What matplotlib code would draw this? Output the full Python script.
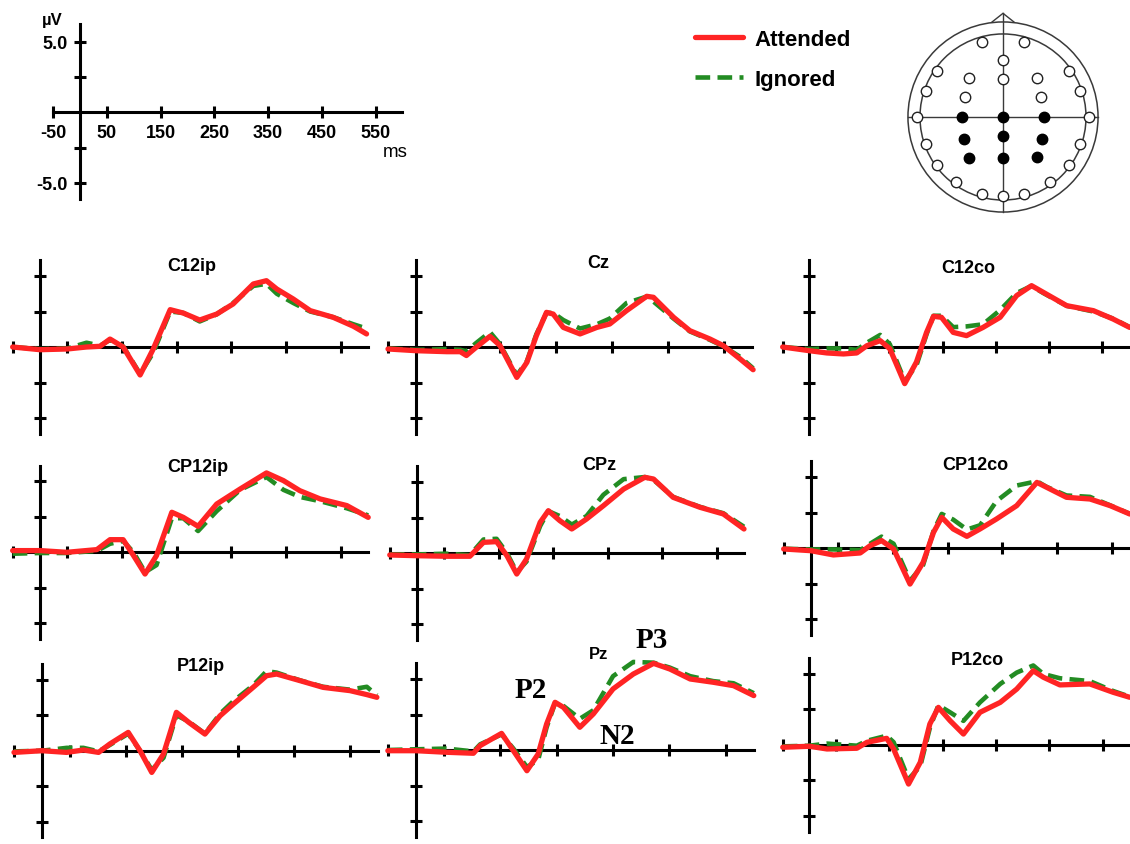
import matplotlib
matplotlib.use('Agg')
import matplotlib.pyplot as plt
from matplotlib.patches import Circle, Polygon

# ---- ERP data (ms, µV) ----
t_c12ip = [-50, 0, 50, 85, 110, 128, 152, 183, 207, 238, 262, 292, 323, 353, 390, 414, 433, 463, 494, 536, 573, 597]
att_c12ip = [0, -0.19, -0.14, 0, 0.05, 0.56, 0, -1.97, -0.14, 2.63, 2.39, 1.9, 2.32, 3.03, 4.44, 4.67, 4.08, 3.38, 2.56, 2.09, 1.46, 0.92]
ign_c12ip = [0, -0.15, -0.1, 0.3, 0.1, 0.5, 0.05, -1.9, -0.4, 2.5, 2.4, 1.8, 2.3, 3.1, 4.3, 4.45, 3.75, 3.1, 2.5, 2.1, 1.6, 1.3]

t_cz = [-50, 0, 55, 79, 90, 108, 132, 150, 180, 198, 215, 233, 245, 263, 293, 323, 346, 376, 412, 424, 460, 489, 525, 549, 579, 602]
att_cz = [-0.14, -0.26, -0.33, -0.33, -0.6, 0, 0.75, 0.1, -2.14, -1.08, 0.8, 2.44, 2.32, 1.38, 0.92, 1.38, 1.62, 2.56, 3.57, 3.5, 2.09, 1.15, 0.56, 0.09, -0.85, -1.6]
ign_cz = [-0.1, -0.2, -0.15, -0.2, -0.3, 0.3, 1.05, 0.2, -2.0, -1.0, 0.9, 2.4, 2.4, 1.9, 1.3, 1.6, 2.0, 3.1, 3.55, 3.2, 2.0, 1.1, 0.5, 0.05, -0.7, -1.5]

t_c12co = [-50, 0, 33, 64, 89, 108, 133, 151, 179, 201, 220, 233, 248, 270, 295, 326, 358, 389, 417, 439, 483, 533, 570, 601]
att_c12co = [0, -0.26, -0.42, -0.49, -0.42, 0.09, 0.45, -0.12, -2.58, -1.06, 1.03, 2.16, 2.09, 1.03, 0.8, 1.38, 2.09, 3.62, 4.32, 3.85, 2.91, 2.56, 1.97, 1.38]
ign_c12co = [0, -0.15, -0.1, -0.1, -0.2, 0.3, 0.85, 0.2, -2.4, -1.3, 0.9, 2.2, 2.2, 1.4, 1.45, 1.6, 2.6, 3.8, 4.3, 3.8, 2.9, 2.5, 2.0, 1.4]

t_cp12ip = [-50, 0, 49, 104, 128, 152, 171, 192, 213, 241, 262, 289, 323, 366, 414, 445, 475, 512, 561, 600]
att_cp12ip = [0.12, 0.12, 0, 0.19, 0.89, 0.89, -0.23, -1.53, -0.23, 2.82, 2.46, 1.83, 3.4, 4.46, 5.59, 5.05, 4.34, 3.76, 3.29, 2.46]
ign_cp12ip = [-0.1, -0.05, -0.05, 0.1, 0.6, 0.8, 0.0, -1.4, -0.9, 2.4, 2.4, 1.5, 2.9, 4.4, 5.3, 4.4, 3.9, 3.6, 3.1, 2.6]

t_cpz = [-50, 0, 54, 97, 122, 146, 165, 183, 201, 226, 241, 262, 284, 311, 342, 379, 418, 434, 470, 519, 562, 600]
att_cpz = [-0.14, -0.19, -0.23, -0.23, 0.75, 0.8, -0.19, -1.48, -0.42, 2.16, 2.98, 2.28, 1.69, 2.39, 3.33, 4.5, 5.33, 5.21, 3.92, 3.22, 2.75, 1.69]
ign_cpz = [-0.1, -0.1, -0.05, -0.15, 0.95, 1.0, 0.0, -1.35, -0.6, 1.9, 2.95, 2.6, 2.0, 2.6, 4.1, 5.2, 5.35, 5.15, 3.95, 3.25, 2.8, 1.85]

t_cp12co = [-50, 0, 41, 90, 108, 129, 151, 181, 205, 224, 239, 260, 285, 309, 339, 376, 413, 431, 467, 510, 547, 583]
att_cp12co = [-0.07, -0.19, -0.49, -0.35, 0.16, 0.52, -0.07, -2.54, -1.01, 1.1, 2.16, 1.34, 0.82, 1.34, 2.04, 2.98, 4.62, 4.27, 3.57, 3.45, 2.98, 2.39]
ign_cp12co = [-0.05, -0.1, -0.1, -0.15, 0.3, 0.8, 0.3, -2.3, -1.2, 1.2, 2.4, 2.0, 1.3, 1.6, 3.3, 4.4, 4.7, 4.3, 3.7, 3.6, 3.0, 2.4]

t_p12ip = [-50, 0, 44, 74, 101, 121, 154, 175, 196, 217, 240, 262, 291, 318, 342, 377, 401, 419, 461, 502, 550, 580, 598]
att_p12ip = [-0.12, 0, -0.12, 0.05, -0.12, 0.47, 1.29, 0, -1.53, -0.23, 2.7, 2.0, 1.17, 2.46, 3.29, 4.46, 5.28, 5.4, 4.93, 4.46, 4.23, 3.95, 3.76]
ign_p12ip = [-0.05, 0, 0.2, 0.2, -0.05, 0.4, 1.2, 0.0, -1.35, -0.5, 2.5, 2.05, 1.2, 2.6, 3.5, 4.6, 5.6, 5.5, 4.95, 4.5, 4.3, 4.5, 3.9]

t_pz = [-50, 0, 54, 102, 114, 152, 173, 197, 217, 232, 247, 262, 291, 315, 350, 386, 422, 451, 487, 528, 564, 600]
att_pz = [-0.05, -0.05, -0.16, -0.23, 0.31, 1.17, -0.05, -1.46, -0.28, 1.83, 3.36, 3.0, 1.6, 2.54, 4.3, 5.35, 6.1, 5.7, 5.0, 4.77, 4.53, 3.83]
ign_pz = [0, 0.05, 0.1, -0.1, 0.4, 1.1, 0.1, -1.2, -0.7, 1.6, 3.3, 3.1, 2.2, 2.8, 5.2, 6.2, 6.15, 5.8, 5.2, 4.85, 4.7, 4.0]

t_p12co = [-50, 0, 33, 89, 108, 145, 158, 186, 208, 226, 242, 264, 289, 320, 358, 389, 420, 439, 470, 526, 570, 601]
att_p12co = [-0.16, -0.09, -0.28, -0.23, 0.19, 0.47, -0.28, -2.75, -1.22, 1.48, 2.65, 1.71, 0.77, 2.3, 3.0, 3.94, 5.23, 4.77, 4.23, 4.3, 3.71, 3.36]
ign_p12co = [-0.1, -0.05, 0.1, -0.05, 0.3, 0.65, 0.2, -2.4, -1.5, 1.2, 2.8, 2.3, 1.7, 3.0, 4.3, 5.1, 5.6, 5.0, 4.7, 4.5, 3.8, 3.4]

titles = ['C12ip', 'Cz', 'C12co', 'CP12ip', 'CPz', 'CP12co', 'P12ip', 'Pz', 'P12co']
times = [t_c12ip, t_cz, t_c12co, t_cp12ip, t_cpz, t_cp12co, t_p12ip, t_pz, t_p12co]
attended = [att_c12ip, att_cz, att_c12co, att_cp12ip, att_cpz, att_cp12co, att_p12ip, att_pz, att_p12co]
ignored = [ign_c12ip, ign_cz, ign_c12co, ign_cp12ip, ign_cpz, ign_cp12co, ign_p12ip, ign_pz, ign_p12co]

x_ticks = [-50, 50, 150, 250, 350, 450, 550]
y_ticks = [-5, -2.5, 2.5, 5]

# electrode montage (head radius = 1)
open_x = [-0.22, 0.22, -0.69, 0.69, -0.8, 0.8, -0.9, 0.9, -0.8, 0.8, -0.69, 0.69, -0.49, 0.49, -0.22, 0.22, 0,
          0, 0, -0.35, 0.35, -0.4, 0.4]
open_y = [0.78, 0.78, 0.48, 0.48, 0.27, 0.27, 0, 0, -0.28, -0.28, -0.5, -0.5, -0.68, -0.68, -0.8, -0.8, -0.82,
          0.59, 0.4, 0.41, 0.41, 0.21, 0.21]
filled_x = [-0.43, 0, 0.43, -0.41, 0, 0.41, -0.35, 0, 0.35]
filled_y = [0, 0, 0, -0.23, -0.2, -0.23, -0.43, -0.43, -0.42]

RED = '#FF2424'
GREEN = '#238C23'
W, H = 1130, 845
SY = 14.2  # pixels per µV

fig = plt.figure(figsize=(W / 100, H / 100), dpi=100)
FONT = 'Liberation Sans'


def px_axes(left, top, width, height):
    return fig.add_axes([left / W, 1 - (top + height) / H, width / W, height / H])


def ptext(x, y, s, **kw):
    fig.text(x / W, 1 - y / H, s, **kw)


def erp_axes(x0, y0, sx, xend=600, sy=SY, ybounds=(-6.1, 6.1)):
    xlim = (-60, 640)
    ylim = (-6.6, 6.6)
    ax = px_axes(x0 + xlim[0] * sx, y0 - ylim[1] * sy,
                 (xlim[1] - xlim[0]) * sx, (ylim[1] - ylim[0]) * sy)
    ax.set_xlim(xlim)
    ax.set_ylim(ylim)
    ax.patch.set_visible(False)
    for s in ['top', 'right']:
        ax.spines[s].set_visible(False)
    for s in ['left', 'bottom']:
        ax.spines[s].set_position(('data', 0))
        ax.spines[s].set_linewidth(2.2)
        ax.spines[s].set_zorder(1)
    ax.spines['bottom'].set_bounds(-50, xend)
    ax.spines['left'].set_bounds(*ybounds)
    ax.set_xticks(x_ticks)
    ax.set_yticks(y_ticks)
    ax.tick_params(direction='inout', length=9, width=2.2, labelbottom=False, labelleft=False)
    return ax


# panel geometry: pixel of t=0, pixel of 0 µV, pixels per ms
geom = [(40, 348, 0.547), (416, 348, 0.56), (809.3, 348, 0.533),
        (40, 553.3, 0.547), (417, 554, 0.545), (811, 549, 0.547),
        (42, 751.7, 0.56), (416, 751, 0.563), (809.4, 746, 0.533)]
title_pos = [(192, 271), (598, 268.5), (968, 273), (198, 472), (599, 470.5),
             (975, 470), (201, 671), (599, 659), (977, 665)]

handles = None
for i in range(9):
    x0, y0, sx = geom[i]
    ax = erp_axes(x0, y0, sx, xend=650 if i % 3 == 2 else 600)
    g, = ax.plot(times[i], ignored[i], color=GREEN, lw=3.3, dashes=(3.2, 1.6),
                 zorder=3, clip_on=False, label='Ignored')
    r, = ax.plot(times[i], attended[i], color=RED, lw=3.8, zorder=4,
                 solid_joinstyle='round', solid_capstyle='round', clip_on=False, label='Attended')
    if handles is None:
        handles = [r, g]
    ptext(*title_pos[i], titles[i], ha='center', va='baseline',
          fontsize=12 if titles[i] == 'Pz' else 13, fontweight='bold', family=FONT)

# component labels on Pz
for lab, (x, y) in zip(['P2', 'N2', 'P3'], [(531, 698), (617, 744), (652, 648)]):
    ptext(x, y, lab, ha='center', va='baseline', fontsize=21, fontweight='bold',
          family='Liberation Serif')

# calibration axes
cal = erp_axes(79.8, 113.3, 0.538, xend=598, sy=14.1, ybounds=(-6.15, 6.26))
cal.tick_params(labelbottom=True, labelleft=True)
cal.tick_params(axis='x', pad=4)
cal.tick_params(axis='y', pad=4.5)
cal.set_xticklabels([str(v) for v in x_ticks])
cal.set_yticklabels(['-5.0', '', '', '5.0'])
for lbl in cal.get_xticklabels() + cal.get_yticklabels():
    lbl.set_fontweight('bold')
    lbl.set_fontsize(13)
    lbl.set_family(FONT)
ptext(52, 25, 'µV', ha='center', va='baseline', fontsize=12, fontweight='bold', family=FONT)
ptext(395, 157, 'ms', ha='center', va='baseline', fontsize=13.5, family=FONT)

# legend
leg = fig.legend(handles, ['Attended', 'Ignored'], loc='upper left',
                 bbox_to_anchor=(686 / W, 1 - 21 / H), borderaxespad=0, frameon=False,
                 handlelength=2.16, handletextpad=0.54, labelspacing=0.85,
                 prop={'family': FONT, 'weight': 'bold', 'size': 16})

# head montage
hx = px_axes(903, 13, 200, 205)
hx.set_xlim(-100 / 96, 100 / 96)
hx.set_ylim(-100 / 96, 105 / 96)
hx.set_aspect('equal')
hx.axis('off')
hx.add_patch(Circle((0, 0), 0.99, fill=False, ec='#3a3a3a', lw=1.1))
hx.add_patch(Circle((0, 0), 0.865, fill=False, ec='#3a3a3a', lw=1.1))
hx.add_patch(Polygon([(-0.12, 0.985), (0, 1.08), (0.12, 0.985)], closed=False,
                     fill=False, ec='#3a3a3a', lw=1.0))
hx.plot([0, 0], [1.08, -0.99], color='#3a3a3a', lw=1.0)
hx.plot([-0.99, 0.99], [0, 0], color='#3a3a3a', lw=1.0)
hx.plot(open_x, open_y, 'o', ms=7.5, mfc='white', mec='#222222', mew=1.0)
hx.plot(filled_x, filled_y, 'o', ms=7.5, mfc='black', mec='black')

fig.savefig('out.png', dpi=100)
